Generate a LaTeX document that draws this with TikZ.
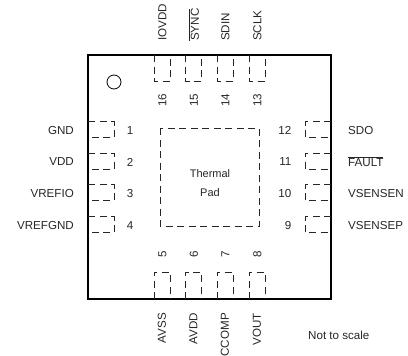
\documentclass[tikz,border=0pt]{standalone}
\usepackage{fontspec}
\setmainfont{Liberation Sans}
\tikzset{
    PK/.style ={line width=2.4pt,line join=miter},
    PD/.style ={draw=black!85,line width=.9pt,dash pattern=on 7pt off 4.5pt},
    TX/.style ={font=\fontsize{11.6}{13}\selectfont,text=black!85,inner sep=0pt},
    RT/.style ={TX,rotate=90}}

\begin{document}
\begin{tikzpicture}[x=1pt,y=-1pt]
        \useasboundingbox (0,0) rectangle (408,356);
        \draw[PK] (88,55) rectangle (331,299);
        \node[circle,draw,line width=.8pt,minimum size=14pt,inner sep=0pt] (dot) at (114,82){};
        \draw[PD] (160,128) rectangle (259,226);
        \node[TX,align=center,font=\fontsize{11}{19}\selectfont] (pad) at (210,183){Thermal\\Pad};
        % left side
        \foreach \n/\t/\y in {1/GND/129.5,2/VDD/161,3/VREFIO/192.5,4/VREFGND/224.5}{
            \draw[PD] (88,\y-8)--(114,\y-8)--(114,\y+8)--(88,\y+8);
            \node[TX] (num\n) at (130,\y+1){\n};
            \node[TX,anchor=east] (lab\n) at (74,\y+1){\t};}
        % right side
        \foreach \n/\t/\y in {12/SDO/129.5,11/$\overline{\mbox{FAULT}}$/161,10/VSENSEN/192.5,9/VSENSEP/224.5}{
            \draw[PD] (331,\y-8)--(305,\y-8)--(305,\y+8)--(331,\y+8);
            \node[TX,anchor=east] (num\n) at (291.5,\y+1){\n};
            \node[TX,anchor=west] (lab\n) at (348,\y+1){\t};}
        % top side
        \foreach \n/\t/\x in {16/IOVDD/162,15/$\overline{\mbox{SYNC}}$/193.5,14/SDIN/225,13/SCLK/257}{
            \draw[PD] (\x-8,55)--(\x-8,81)--(\x+8,81)--(\x+8,55);
            \node[RT] (num\n) at (\x+.5,100){\n};
            \node[RT,anchor=west] (lab\n) at (\x+.5,41){\t};}
        % bottom side
        \foreach \n/\t/\x in {5/AVSS/162,6/AVDD/193.5,7/CCOMP/225,8/VOUT/257}{
            \draw[PD] (\x-8,299)--(\x-8,272)--(\x+8,272)--(\x+8,299);
            \node[RT] (num\n) at (\x+.5,254){\n};
            \node[RT,anchor=east] (lab\n) at (\x,313){\t};}
        \node[TX,anchor=west] (note) at (308,335){Not to scale};
    \end{tikzpicture}
\end{document}
